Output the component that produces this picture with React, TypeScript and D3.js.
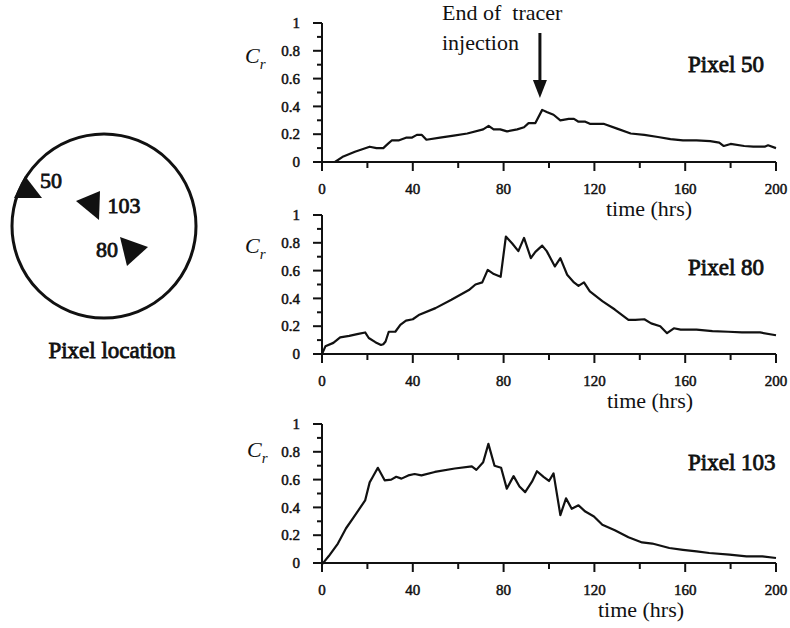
import React from "react";
import * as d3 from "d3";

// axis ticks
const xTicks = [0, 40, 80, 120, 160, 200];
const xMinorTicks = [20, 60, 100, 140, 180];
const yTicks = [0, 0.2, 0.4, 0.6, 0.8, 1];
const yMinorTicks = [0.1, 0.3, 0.5, 0.7, 0.9];
const yTickLabels = ["0", "0.2", "0.4", "0.6", "0.8", "1"];

const pixelNames = ["Pixel 50", "Pixel 80", "Pixel 103"];
const pixelIds = ["50", "103", "80"];

// [time (hrs), Cr]
const pixel50 = [
  [0, 0], [5.7, 0], [9.4, 0.04], [14.5, 0.074], [21, 0.11], [24, 0.1], [27, 0.1],
  [29, 0.13], [30.7, 0.155], [33.7, 0.155], [37, 0.175], [39.5, 0.175], [41.8, 0.195],
  [44, 0.195], [46, 0.16], [52, 0.175], [58, 0.19], [64, 0.205], [71, 0.235], [73.4, 0.26],
  [75.6, 0.235], [78.5, 0.235], [81.5, 0.22], [86, 0.235], [89, 0.25], [91, 0.28],
  [94, 0.28], [97, 0.375], [99, 0.36], [102, 0.34], [105, 0.3], [108.7, 0.31], [111, 0.31],
  [113, 0.29], [116, 0.29], [118, 0.275], [124, 0.275], [130, 0.24], [136, 0.205],
  [142, 0.195], [148, 0.18], [153.5, 0.165], [159, 0.155], [165, 0.155], [171, 0.15],
  [175, 0.14], [177, 0.115], [180, 0.13], [186, 0.115], [190, 0.11], [195, 0.11],
  [196.5, 0.12], [200, 0.1],
];

const pixel80 = [
  [0, 0], [1.5, 0.055], [5, 0.08], [8, 0.12], [12, 0.13], [16, 0.145], [19, 0.155],
  [20.6, 0.115], [23.5, 0.085], [26, 0.065], [27, 0.07], [28, 0.09], [29.4, 0.16],
  [32.3, 0.16], [34.5, 0.21], [37, 0.24], [40, 0.25], [42.6, 0.28], [50, 0.33],
  [57, 0.39], [64.7, 0.46], [67.6, 0.5], [70.6, 0.515], [73, 0.605], [75.7, 0.575],
  [78.7, 0.555], [81, 0.845], [83.8, 0.795], [86.5, 0.74], [89, 0.835], [92, 0.69],
  [94, 0.735], [97, 0.78], [99, 0.74], [102.6, 0.63], [105, 0.69], [108, 0.57],
  [111, 0.515], [113, 0.49], [115.4, 0.515], [118, 0.45], [123.5, 0.38], [129, 0.32],
  [135, 0.245], [138, 0.245], [142, 0.25], [145, 0.22], [149, 0.2], [152, 0.15],
  [155, 0.185], [158, 0.175], [165, 0.175], [172, 0.165], [179, 0.16], [185, 0.155],
  [193, 0.155], [200, 0.135],
];

const pixel103 = [
  [0, -0.01], [3, 0.05], [7, 0.14], [10.6, 0.25], [14, 0.33], [19, 0.45], [21, 0.58],
  [22.4, 0.62], [24.6, 0.685], [27.6, 0.595], [30.5, 0.6], [32.7, 0.62], [35, 0.607],
  [38, 0.63], [40.8, 0.64], [43.8, 0.63], [49.7, 0.655], [58.5, 0.68], [66, 0.695],
  [68, 0.67], [71, 0.725], [73.3, 0.857], [76, 0.7], [78.9, 0.685], [81.4, 0.535],
  [84.4, 0.625], [87, 0.55], [89.5, 0.51], [92.5, 0.585], [94.7, 0.66], [97.6, 0.62],
  [100, 0.59], [102, 0.645], [105, 0.345], [107.5, 0.465], [110, 0.39], [113, 0.415],
  [116, 0.37], [119.8, 0.335], [123.5, 0.275], [129, 0.235], [135, 0.185], [141, 0.148],
  [145.5, 0.14], [153, 0.108], [159, 0.095], [165, 0.083], [170.6, 0.072], [179.5, 0.06],
  [187, 0.048], [194, 0.048], [200, 0.036],
];

const series = [pixel50, pixel80, pixel103];
const injectionEnd = 96; // hrs

// layout
const X0 = 322;
const X1 = 776;
const panelBase = [162, 354, 563];
const panelH = 139;
const crPos = [[245, 63], [245, 253], [247, 457]];
const timeLabelX = [649, 650, 641];
const nameBaseline = [72, 275, 470];

const serif = "'Liberation Serif', 'Times New Roman', serif";
const ink = "#111";
// the bold face isn't installed, so thicken the regular one with a stroke
const heavy = { stroke: ink, strokeWidth: 0.8, paintOrder: "stroke" } as any;
const heavyTick = { stroke: ink, strokeWidth: 0.5, paintOrder: "stroke" } as any;

function Panel({ idx }) {
  const y0 = panelBase[idx];
  const x = d3.scaleLinear().domain([0, 200]).range([X0, X1]);
  const y = d3.scaleLinear().domain([0, 1]).range([y0, y0 - panelH]);
  const line = d3
    .line()
    .x((d) => x(d[0]))
    .y((d) => y(d[1]));

  return (
    <g>
      {/* axes */}
      <line x1={x(0)} x2={x(200)} y1={y(0)} y2={y(0)} stroke={ink} strokeWidth={2} />
      <line x1={x(0)} x2={x(0)} y1={y(0) + 1} y2={y(1)} stroke={ink} strokeWidth={2} />
      {xTicks.map((t) => (
        <line key={"xt" + t} x1={x(t)} x2={x(t)} y1={y(0)} y2={y(0) + 9} stroke={ink} strokeWidth={2} />
      ))}
      {xMinorTicks.map((t) => (
        <line key={"xm" + t} x1={x(t)} x2={x(t)} y1={y(0)} y2={y(0) + 6} stroke={ink} strokeWidth={2} />
      ))}
      {yTicks.map((v) => (
        <line key={"yt" + v} x1={x(0) - 9} x2={x(0)} y1={y(v)} y2={y(v)} stroke={ink} strokeWidth={2} />
      ))}
      {yMinorTicks.map((v) => (
        <line key={"ym" + v} x1={x(0) - 5} x2={x(0)} y1={y(v)} y2={y(v)} stroke={ink} strokeWidth={2} />
      ))}
      {xTicks.map((t) => (
        <text key={"xl" + t} x={x(t)} y={y(0) + 32} textAnchor="middle" fontSize={15} fill={ink} style={heavyTick}>
          {t}
        </text>
      ))}
      {yTicks.map((v, i) => (
        <text key={"yl" + v} x={300} y={y(v)} dy="0.35em" textAnchor="end" fontSize={15} fill={ink} style={heavyTick}>
          {yTickLabels[i]}
        </text>
      ))}
      <text x={timeLabelX[idx]} y={y(0) + 54} textAnchor="middle" fontSize={22} fill={ink}>
        time (hrs)
      </text>
      <text x={crPos[idx][0]} y={crPos[idx][1]} fontSize={22} fontStyle="italic" fill={ink}>
        C
        <tspan fontSize={15} dy={6}>r</tspan>
      </text>
      <text x={688} y={nameBaseline[idx]} fontSize={23} fill={ink} style={heavy}>
        {pixelNames[idx]}
      </text>
      <path d={line(series[idx])} fill="none" stroke={ink} strokeWidth={2.2} strokeLinejoin="round" />
      {idx === 0 && (
        <g>
          <text x={442} y={20} fontSize={22} fill={ink} style={{ whiteSpace: "pre" }}>
            {"End of  tracer"}
          </text>
          <text x={442} y={50} fontSize={22} fill={ink}>
            injection
          </text>
          <line x1={x(injectionEnd)} x2={x(injectionEnd)} y1={33} y2={82} stroke={ink} strokeWidth={3} />
          <path
            d={`M${x(injectionEnd) - 7},80 L${x(injectionEnd) + 7},80 L${x(injectionEnd)},98 Z`}
            fill={ink}
          />
        </g>
      )}
    </g>
  );
}

function Location() {
  const markers = [
    { pts: [[25, 176], [14, 198], [42, 198]], label: [51, 188] },
    { pts: [[76, 201], [100, 191], [99, 220]], label: [124, 213] },
    { pts: [[120, 237], [148, 247], [127, 266]], label: [107, 257] },
  ];
  return (
    <g>
      <circle cx={104} cy={226} r={92} fill="none" stroke={ink} strokeWidth={3} />
      {markers.map((m, i) => (
        <g key={i}>
          <path d={"M" + m.pts.map((p) => p.join(",")).join("L") + "Z"} fill={ink} />
          <text x={m.label[0]} y={m.label[1]} textAnchor="middle" fontSize={22} fill={ink} style={heavy}>
            {pixelIds[i]}
          </text>
        </g>
      ))}
      <text x={112} y={358} textAnchor="middle" fontSize={23} fill={ink} style={heavy}>
        Pixel location
      </text>
    </g>
  );
}

export default function App() {
  return (
    <svg
      width={790}
      height={628}
      style={{ position: "absolute", left: 0, top: 0, background: "#fff" }}
      fontFamily={serif}
    >
      <Location />
      {series.map((_, i) => (
        <Panel key={i} idx={i} />
      ))}
    </svg>
  );
}
